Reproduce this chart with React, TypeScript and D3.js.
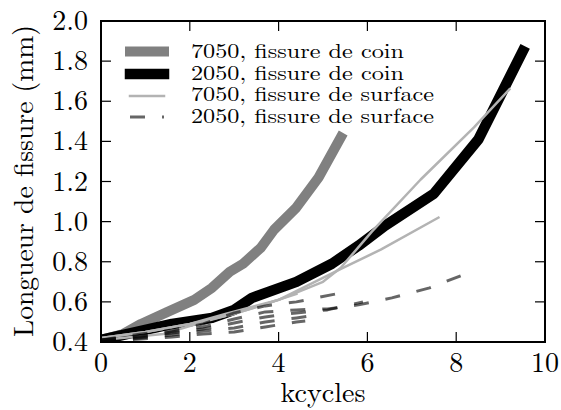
import React from "react";
import * as d3 from "d3";

// ---- data (kcycles, crack length mm) ----
const coin7050: [number, number][] = [
  [0, 0.41], [0.5, 0.44], [0.9, 0.49], [1.5, 0.55], [2.1, 0.61], [2.5, 0.67],
  [2.9, 0.75], [3.2, 0.79], [3.6, 0.87], [3.9, 0.96], [4.4, 1.07], [4.9, 1.22], [5.4, 1.42],
];
const coin2050: [number, number][] = [
  [0, 0.41], [0.8, 0.45], [1.6, 0.49], [2.5, 0.52], [3.0, 0.56], [3.4, 0.62],
  [4.4, 0.70], [5.2, 0.79], [5.8, 0.88], [6.4, 0.98], [7.5, 1.14], [8.5, 1.41], [9.5, 1.85],
];
const surface7050a: [number, number][] = [
  [0, 0.42], [1, 0.45], [2, 0.49], [3, 0.54], [4, 0.61], [5, 0.70], [5.4, 0.77],
  [6.1, 0.95], [7.2, 1.21], [8.4, 1.47], [9.2, 1.66],
];
const surface7050b: [number, number][] = [
  [0, 0.42], [1, 0.45], [2, 0.49], [2.8, 0.54], [4, 0.61], [5.45, 0.77], [6.3, 0.86], [7.6, 1.02],
];
const surface7050c: [number, number][] = [
  [0, 0.41], [1.4, 0.44], [2.3, 0.50], [3.3, 0.56], [4.4, 0.64],
];
const surface2050a: [number, number][] = [
  [0, 0.41], [0.9, 0.44], [1.6, 0.46], [2.3, 0.49], [3, 0.545], [3.7, 0.58], [4.4, 0.60], [5.3, 0.64],
];
const surface2050b: [number, number][] = [
  [0, 0.41], [0.9, 0.43], [1.6, 0.45], [2.3, 0.475], [3, 0.515], [3.7, 0.55], [4.4, 0.56],
  [5.1, 0.565], [5.8, 0.585], [6.55, 0.62], [7.4, 0.67], [8.1, 0.73],
];
const surface2050c: [number, number][] = [
  [0, 0.41], [0.9, 0.425], [1.6, 0.445], [2.3, 0.465], [3, 0.495], [3.7, 0.525], [4.4, 0.545], [5.1, 0.56], [5.9, 0.60],
];
const surface2050d: [number, number][] = [
  [0, 0.40], [0.9, 0.42], [1.6, 0.435], [2.3, 0.455], [3, 0.47], [3.7, 0.50], [4.4, 0.52], [5.0, 0.54],
];
const surface2050e: [number, number][] = [
  [0, 0.40], [0.9, 0.415], [1.6, 0.425], [2.3, 0.44], [3, 0.45], [3.7, 0.475], [4.4, 0.50], [4.6, 0.505],
];

const xTicks = [0, 2, 4, 6, 8, 10];
const yTicks = [0.4, 0.6, 0.8, 1.0, 1.2, 1.4, 1.6, 1.8, 2.0];
const legendLabels = [
  "7050, fissure de coin",
  "2050, fissure de coin",
  "7050, fissure de surface",
  "2050, fissure de surface",
];

const W = 561;
const H = 410;
const TXT: React.CSSProperties = { fontFamily: '"Latin Modern Roman"' };

export default function App() {
  const x = d3.scaleLinear().domain([0, 10]).range([101, 545]);
  const y = d3.scaleLinear().domain([0.4, 2.0]).range([342, 21]);
  const line = d3
    .line<[number, number]>()
    .x((d) => x(d[0]))
    .y((d) => y(d[1]));

  const tickLen = 10;
  const legendStyles = [
    { stroke: "#808080", width: 10, dash: undefined as string | undefined, cap: "square", op: 1 },
    { stroke: "#000000", width: 10.5, dash: undefined, cap: "square", op: 1 },
    { stroke: "#b3b3b3", width: 2.5, dash: undefined, cap: "square", op: 1 },
    { stroke: "#000000", width: 3, dash: "15,17", cap: "butt", op: 0.6 },
  ];
  const legendRowsY = [51.5, 74, 96, 117];
  const legendBase = [58, 79.7, 101.3, 123];
  const legendWidths = [213, 213, 243, 243];

  return (
    <svg width={W} height={H} style={{ position: "absolute", left: 0, top: 0, background: "#fff" }}>
      <rect x={0} y={0} width={W} height={H} fill="#fff" />
      <defs>
        <clipPath id="plotclip">
          <rect x={101} y={21} width={444} height={321} />
        </clipPath>
      </defs>

      <g clipPath="url(#plotclip)" fill="none" strokeLinejoin="round">
        <path d={line(coin7050) || ""} stroke="#808080" strokeWidth={10} strokeLinecap="square" />
        <path d={line(coin2050) || ""} stroke="#000" strokeWidth={10.5} strokeLinecap="square" />
        {[surface7050a, surface7050b, surface7050c].map((s, i) => (
          <path key={"s7" + i} d={line(s) || ""} stroke="#b3b3b3" strokeWidth={2.5} strokeLinecap="square" />
        ))}
        {[surface2050a, surface2050b, surface2050c, surface2050d, surface2050e].map((s, i) => (
          <path
            key={"s2" + i}
            d={line(s) || ""}
            stroke="#000"
            strokeOpacity={0.6}
            strokeWidth={3}
            strokeDasharray="15,17"
            strokeLinecap="butt"
          />
        ))}
      </g>

      {/* frame */}
      <rect x={101} y={21} width={444} height={321} fill="none" stroke="#000" strokeWidth={2} />

      {/* ticks */}
      <g stroke="#000" strokeWidth={1.2}>
        {xTicks.map((t) => (
          <g key={"xt" + t}>
            <line x1={x(t)} x2={x(t)} y1={342} y2={342 - tickLen} />
            <line x1={x(t)} x2={x(t)} y1={21} y2={21 + tickLen} />
          </g>
        ))}
        {yTicks.map((t) => (
          <g key={"yt" + t}>
            <line x1={101} x2={101 + tickLen} y1={y(t)} y2={y(t)} />
            <line x1={545} x2={545 - tickLen} y1={y(t)} y2={y(t)} />
          </g>
        ))}
      </g>

      {/* tick labels */}
      <g fontSize={28} fill="#000">
        {xTicks.map((t) => (
          <text key={"xl" + t} x={x(t)} y={372} textAnchor="middle" style={TXT}>
            {String(t)}
          </text>
        ))}
        {yTicks.map((t) => (
          <text key={"yl" + t} x={88} y={y(t) + 9} textAnchor="end" style={TXT}>
            {t.toFixed(1)}
          </text>
        ))}
      </g>

      {/* axis labels */}
      <text x={x(5)} y={402} textAnchor="middle" fontSize={28} style={TXT}>
        kcycles
      </text>
      <text
        transform={`translate(33, 181) rotate(-90)`}
        textAnchor="middle"
        fontSize={27.6}
        style={TXT}
      >
        Longueur de fissure (mm)
      </text>

      {/* legend */}
      {legendLabels.map((lab, i) => {
        const st = legendStyles[i];
        const ly = legendRowsY[i];
        return (
          <g key={"lg" + i}>
            <line
              x1={130}
              x2={164}
              y1={ly}
              y2={ly}
              stroke={st.stroke}
              strokeOpacity={st.op}
              strokeWidth={st.width}
              strokeDasharray={st.dash}
              strokeLinecap={st.cap as any}
            />
            <text
              x={191}
              y={legendBase[i]}
              fontSize={20.5}
              style={TXT}
              textLength={legendWidths[i]}
              lengthAdjust="spacingAndGlyphs"
            >
              {lab}
            </text>
          </g>
        );
      })}
    </svg>
  );
}
